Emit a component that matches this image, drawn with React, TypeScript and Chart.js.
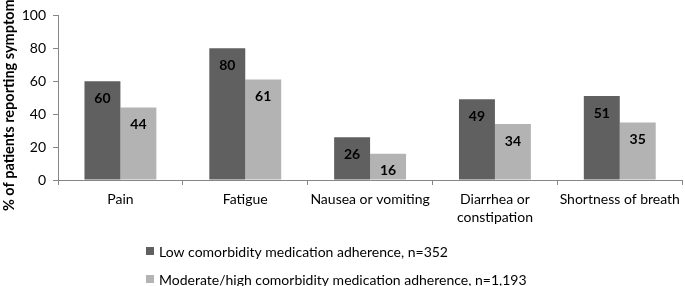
import React, { useEffect, useRef } from "react";
import { Chart, registerables } from "chart.js";

Chart.register(...registerables);

const categories: (string | string[])[] = [
  "Pain",
  "Fatigue",
  "Nausea or vomiting",
  ["Diarrhea or", "constipation"],
  "Shortness of breath",
];
const lowAdherence = [60, 80, 26, 49, 51];
const modHighAdherence = [44, 61, 16, 34, 35];
const seriesNames = [
  "Low comorbidity medication adherence, n=352",
  "Moderate/high comorbidity medication adherence, n=1,193",
];
const seriesColors = ["#606060", "#b3b3b3"];
const yTitle = "% of patients reporting symptoms";
const FONT = "Lato, 'Open Sans', sans-serif";

const labelPlugin = {
  id: "barLabels",
  afterDatasetsDraw(chart: any) {
    const ctx = chart.ctx;
    ctx.save();
    ctx.font = `bold 14px ${FONT}`;
    ctx.fillStyle = "#000";
    ctx.textAlign = "center";
    ctx.textBaseline = "middle";
    chart.data.datasets.forEach((ds: any, i: number) => {
      const meta = chart.getDatasetMeta(i);
      meta.data.forEach((bar: any, j: number) => {
        ctx.fillText(String(ds.data[j]), bar.x, bar.y + 17);
      });
    });
    ctx.restore();
  },
};

const legendTitlePlugin = {
  id: "customLegendTitle",
  afterDraw(chart: any) {
    const ctx = chart.ctx;
    ctx.save();
    ctx.font = `14px ${FONT}`;
    ctx.textBaseline = "middle";
    ctx.textAlign = "left";
    chart.data.datasets.forEach((ds: any, i: number) => {
      const cy = 251 + 28 * i;
      ctx.fillStyle = ds.backgroundColor;
      ctx.fillRect(146, cy - 4, 8, 8);
      ctx.fillStyle = "#000";
      ctx.fillText(ds.label, 159, cy + 1);
    });
    // y axis title
    ctx.translate(9, 102);
    ctx.rotate(-Math.PI / 2);
    ctx.font = `bold 14.5px ${FONT}`;
    ctx.textAlign = "center";
    ctx.fillStyle = "#000";
    ctx.fillText(yTitle, 0, 0);
    ctx.restore();
  },
};

export default function App() {
  const ref = useRef<HTMLCanvasElement | null>(null);
  useEffect(() => {
    document.body.style.margin = "0";
    const chart = new Chart(ref.current!, {
      type: "bar",
      data: {
        labels: categories,
        datasets: [
          { label: seriesNames[0], data: lowAdherence, backgroundColor: seriesColors[0] },
          { label: seriesNames[1], data: modHighAdherence, backgroundColor: seriesColors[1] },
        ],
      },
      options: {
        animation: false,
        responsive: false,
        layout: { padding: { top: 6, right: 1, left: 0, bottom: 0 } },
        datasets: {
          bar: { categoryPercentage: 0.576, barPercentage: 1 },
        },
        plugins: {
          legend: { display: false },
          tooltip: { enabled: false },
        },
        scales: {
          x: {
            afterFit: (s: any) => {
              s.height = 106;
            },
            grid: {
              display: true,
              offset: true,
              drawOnChartArea: false,
              drawTicks: true,
              tickLength: 5,
              color: "#868686",
            },
            border: { color: "#868686", width: 1 },
            ticks: {
              color: "#000",
              font: { family: FONT, size: 14, lineHeight: 1.3 },
              padding: 5,
              maxRotation: 0,
              autoSkip: false,
            },
          },
          y: {
            min: 0,
            max: 100,
            afterFit: (s: any) => {
              s.width = 58;
            },
            grid: {
              display: true,
              drawOnChartArea: false,
              drawTicks: true,
              tickLength: 5,
              color: "#868686",
            },
            border: { color: "#868686", width: 1 },
            ticks: {
              stepSize: 20,
              color: "#000",
              font: { family: FONT, size: 14 },
              padding: 7,
            },
          },
        },
      },
      plugins: [labelPlugin, legendTitlePlugin],
    });
    return () => chart.destroy();
  }, []);
  return <canvas ref={ref} width={685} height={286} style={{ display: "block" }} />;
}
